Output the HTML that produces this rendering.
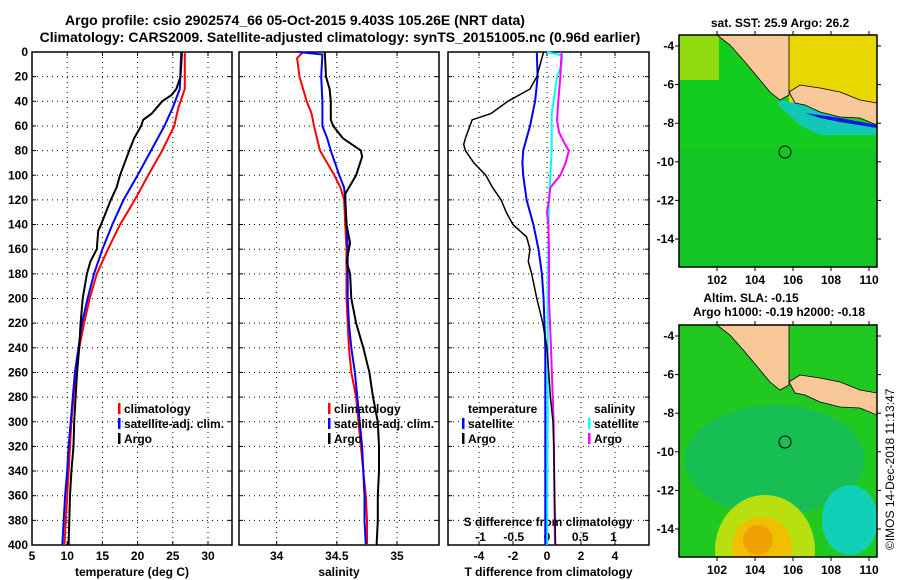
<!DOCTYPE html>
<html><head><meta charset="utf-8"><style>
html,body{margin:0;padding:0;background:#fff;}
svg{display:block;font-family:"Liberation Sans",sans-serif;font-weight:bold;}
</style></head><body>
<svg id="fig" width="900" height="580" xmlns="http://www.w3.org/2000/svg">
<text x="295" y="25" font-size="14" text-anchor="middle">Argo profile: csio 2902574_66 05-Oct-2015 9.403S 105.26E (NRT data)</text>
<text x="340" y="42" font-size="14" text-anchor="middle">Climatology: CARS2009. Satellite-adjusted climatology: synTS_20151005.nc (0.96d earlier)</text>
<text transform="translate(894,550) rotate(-90)" font-size="12" font-weight="normal">©IMOS 14-Dec-2018 11:13:47</text>
<g id="maps"></g>
<g id="plots"></g>
</svg>
<script>
// ===== data =====
const depthTick = [0,20,40,60,80,100,120,140,160,180,200,220,240,260,280,300,320,340,360,380,400];
// temperature panel
const tempTicks = [5,10,15,20,25,30];
const tClimD = [0,30,45,60,80,100,120,140,160,180,200,220,240,260,280,300,320,340,360,380,400];
const tClimV = [26.7,26.7,25.8,25.2,23.5,21.5,19.6,17.5,15.8,14.2,13.2,12.4,11.7,11.2,10.9,10.6,10.4,10.2,10.0,9.8,9.6];
const tSatD = [0,30,45,60,80,100,120,140,160,180,200,220,240,260,280,300,320,340,360,380,400];
const tSatV = [26.2,26.0,25.0,23.8,21.9,20.0,18.0,16.4,15.0,13.8,12.9,12.1,11.6,11.1,10.8,10.5,10.2,10.0,9.7,9.5,9.3];
const tArgoD = [0,20,30,35,40,50,55,60,70,80,100,110,120,140,145,160,170,180,200,220,240,260,280,300,320,340,360,380,400];
const tArgoV = [26.3,26.1,25.5,24.8,23.5,22.0,20.8,20.5,19.5,18.8,17.5,17.0,16.2,14.8,14.4,14.2,13.3,12.8,12.2,11.9,11.7,11.4,11.2,11.0,10.9,10.6,10.4,10.3,10.2];
// salinity panel
const salTicks = [34,34.5,35];
const sClimD = [0,5,20,40,50,60,80,100,110,120,140,160,180,200,220,240,260,280,300,320,340,360,380,400];
const sClimV = [34.22,34.17,34.19,34.25,34.29,34.31,34.36,34.48,34.53,34.56,34.57,34.58,34.58,34.58,34.59,34.60,34.62,34.66,34.68,34.70,34.72,34.74,34.75,34.75];
const sSatD = [0,2,20,40,60,70,80,100,110,120,140,160,180,200,220,240,260,280,300,320,340,360,380,400];
const sSatV = [34.18,34.38,34.37,34.38,34.38,34.42,34.45,34.52,34.56,34.57,34.58,34.59,34.59,34.59,34.60,34.62,34.65,34.67,34.69,34.71,34.72,34.73,34.73,34.74];
const sArgoD = [0,20,30,40,55,60,70,80,85,100,110,115,120,140,155,170,180,200,220,240,260,280,300,320,340,360,380,400];
const sArgoV = [34.40,34.41,34.44,34.45,34.45,34.47,34.55,34.70,34.71,34.66,34.60,34.57,34.57,34.58,34.61,34.58,34.61,34.62,34.66,34.72,34.77,34.80,34.84,34.85,34.85,34.84,34.84,34.83];
// difference panel
const dTTicks = [-4,-2,0,2,4];
const dSTicks = [-1,-0.5,0,0.5,1];
const dTSatD = [0,20,40,60,70,80,90,100,120,140,160,180,200,240,300,400];
const dTSatV = [-0.6,-0.55,-0.7,-1.0,-1.2,-1.4,-1.45,-1.4,-1.2,-0.8,-0.5,-0.3,-0.2,-0.1,-0.1,-0.1];
const dTArgoD = [0,20,30,40,50,55,70,75,80,90,100,110,120,130,140,150,160,170,180,200,220,240,280,300,320,360,400];
const dTArgoV = [-0.2,-0.6,-1.0,-2.3,-3.3,-4.4,-4.8,-4.9,-4.8,-4.3,-3.6,-3.2,-2.7,-2.4,-2.0,-1.2,-1.0,-1.1,-0.9,-0.6,-0.25,0,0.2,0.35,0.4,0.45,0.5];
const dSSatD = [0,3,10,20,40,50,60,80,100,120,160,200,300,400];
const dSSatV = [0.0,0.23,0.22,0.15,0.10,0.07,0.07,0.07,0.05,0.03,0.02,0.01,0.01,0.0];
const dSArgoD = [0,20,40,55,65,75,80,90,100,110,120,130,140,160,200,240,300,400];
const dSArgoV = [0.22,0.20,0.17,0.15,0.18,0.27,0.33,0.28,0.20,0.05,0.03,0.0,0.02,0.03,0.03,0.06,0.10,0.12];

// ===== drawing =====
const NS='http://www.w3.org/2000/svg';
const plots=document.getElementById('plots');
function el(tag,attrs,parent,txt){const e=document.createElementNS(NS,tag);for(const k in attrs)e.setAttribute(k,attrs[k]);if(txt!==undefined)e.textContent=txt;(parent||plots).appendChild(e);return e;}
const Y0=52,Y1=545;
const yD=d=>Y0+(Y1-Y0)*d/400;

function panel(name,x0,x1,vmin,vmax,ticks,label,showY){
  const g=el('g',{});
  
  
  const xs=v=>x0+(x1-x0)*(v-vmin)/(vmax-vmin);
  el('rect',{x:x0,y:Y0,width:x1-x0,height:Y1-Y0,fill:'#fff',stroke:'#000','stroke-width':1.5},g);
  depthTick.forEach(d=>{
    const y=yD(d);
    if(d>0&&d<400){el('line',{x1:x0,x2:x1,y1:y,y2:y,stroke:'#000','stroke-width':1,'stroke-dasharray':'1,4'},g);}
    el('line',{x1:x0,x2:x0+4,y1:y,y2:y,stroke:'#000'},g);
    el('line',{x1:x1-4,x2:x1,y1:y,y2:y,stroke:'#000'},g);
    if(showY){const t=el('text',{x:x0-4,y:y+4,'font-size':12,'text-anchor':'end'},g,String(d));}
  });
  ticks.forEach(v=>{
    const x=xs(v);
    if(x>x0+1&&x<x1-1)el('line',{x1:x,x2:x,y1:Y0,y2:Y1,stroke:'#000','stroke-width':1,'stroke-dasharray':'1,4'},g);
    el('line',{x1:x,x2:x,y1:Y1-4,y2:Y1,stroke:'#000'},g);
    el('line',{x1:x,x2:x,y1:Y0,y2:Y0+4,stroke:'#000'},g);
    const t=el('text',{x:x,y:Y1+15,'font-size':12,'text-anchor':'middle'},g,String(v));
    
    
  });
  const xl=el('text',{x:(x0+x1)/2,y:576,'font-size':12,'text-anchor':'middle'},g,label);
  
  
  return {g,xs};
}
function line(p,D,V,color,w,name){
  const pts=D.map((d,i)=>p.xs(V[i]).toFixed(1)+','+yD(d).toFixed(1)).join(' ');
  const l=el('polyline',{points:pts,fill:'none',stroke:color,'stroke-width':w},p.g);
  
  
}
function legend(g,x,y,color,txt,name){
  if(color)el('rect',{x:x,y:y-10,width:2.5,height:11,fill:color},g);
  const t=el('text',{x:x+6,y:y,'font-size':12},g,txt);
  
  
}

// panel 1
const p1=panel('temperature-panel',32,232,5,5+200/7.04,tempTicks,'temperature (deg C)',true);
line(p1,tClimD,tClimV,'#ff0000',2,'climatology-temp-line');
line(p1,tSatD,tSatV,'#0000ff',2,'satellite-adj-temp-line');
line(p1,tArgoD,tArgoV,'#000000',2,'argo-temp-line');
legend(p1.g,118,413,'#f00','climatology','legend-climatology');
legend(p1.g,118,428,'#00f','satellite-adj. clim.','legend-satellite-adj');
legend(p1.g,118,443,'#000','Argo','legend-argo');

// panel 2
const p2=panel('salinity-panel',239,439,34-37.7/120.6,35+42/120.6,salTicks,'salinity',false);
line(p2,sClimD,sClimV,'#ff0000',2,'climatology-salinity-line');
line(p2,sSatD,sSatV,'#0000ff',2,'satellite-adj-salinity-line');
line(p2,sArgoD,sArgoV,'#000000',2,'argo-salinity-line');
legend(p2.g,328,413,'#f00','climatology','legend-climatology');
legend(p2.g,328,428,'#00f','satellite-adj. clim.','legend-satellite-adj');
legend(p2.g,328,443,'#000','Argo','legend-argo');

// panel 3
const p3=panel('difference-panel',448,649,-99/17,102/17,dTTicks,'T difference from climatology',false);
const sx=v=>547+v*66.5;
const pS={g:p3.g,xs:sx};
dSTicks.forEach(v=>{const t=el('text',{x:sx(v),y:541,'font-size':12,'text-anchor':'middle'},p3.g,String(v));});
const st=el('text',{x:548,y:526,'font-size':12,'text-anchor':'middle'},p3.g,'S difference from climatology');


line(pS,dSSatD,dSSatV,'#00ffff',2,'satellite-salinity-diff-line');
line(pS,dSArgoD,dSArgoV,'#ff00ff',2,'argo-salinity-diff-line');
line(p3,dTSatD,dTSatV,'#0000ff',2,'satellite-temp-diff-line');
line(p3,dTArgoD,dTArgoV,'#000000',1.5,'argo-temp-diff-line');
legend(p3.g,462,413,null,'temperature','legend-temperature-heading');
legend(p3.g,462,428,'#00f','satellite','legend-temp-satellite');
legend(p3.g,462,443,'#000','Argo','legend-temp-argo');
legend(p3.g,588,413,null,'salinity','legend-salinity-heading');
legend(p3.g,588,428,'#0ff','satellite','legend-sal-satellite');
legend(p3.g,588,443,'#f0f','Argo','legend-sal-argo');

// ===== maps =====
const maps=document.getElementById('maps');
function map(name,top,bot,title,kind){
  const g=el('g',{},maps);
  
  
  const off=top-35;
  const L=679,R=877;
  const id=name+'-clip';
  const cp=el('clipPath',{id:id},g);el('rect',{x:L,y:top,width:R-L,height:bot-top},cp);
  const c=el('g',{'clip-path':'url(#'+id+')'},g);
  if(kind==='sst'){
    el('rect',{x:L,y:top,width:R-L,height:bot-top,fill:'#14cc1e'},c);
    el('rect',{x:L,y:top,width:40,height:45,fill:'#90dc10'},c);
    el('rect',{x:789,y:top,width:88,height:70,fill:'#e8d800'},c);
    el('polygon',{points:[[780,100+off],[800,104+off],[840,118+off],[877,125+off],[877,135+off],[820,135+off],[800,125+off],[778,105+off]].join(' '),fill:'#10c8b4'},c);
    el('polygon',{points:[[805,113+off],[840,118+off],[877,125+off],[877,128+off],[840,122+off],[820,118+off]].join(' '),fill:'#1010ee'},c);
    el('rect',{x:L,y:150+off,width:R-L,height:120,fill:'#10c028',opacity:0.6},c);
  } else {
    el('rect',{x:L,y:top,width:R-L,height:bot-top,fill:'#20c820'},c);
    el('ellipse',{cx:775,cy:top+135,rx:90,ry:55,fill:'#14bc60',opacity:0.8},c);
    el('ellipse',{cx:850,cy:top+195,rx:28,ry:35,fill:'#10d0b8'},c);
    el('ellipse',{cx:765,cy:top+225,rx:50,ry:55,fill:'#b8e010'},c);
    el('ellipse',{cx:762,cy:top+222,rx:30,ry:30,fill:'#f0c000'},c);
    el('ellipse',{cx:758,cy:top+215,rx:15,ry:15,fill:'#f0a000'},c);
  }
  const land1=[[717,35],[789,35],[789,95],[780,100],[770,92],[760,80],[745,62],[730,45]].map(p=>[p[0],p[1]+off]);
  const land2=[[789,92],[800,85],[820,88],[840,92],[860,100],[877,103],[877,125],[860,118],[840,117],[820,112],[805,105],[795,103]].map(p=>[p[0],p[1]+off]);
  el('polygon',{points:land1.join(' '),fill:'#f8c898',stroke:'#000','stroke-width':0.8},c);
  el('polygon',{points:land2.join(' '),fill:'#f8c898',stroke:'#000','stroke-width':0.8},c);
  el('circle',{cx:785,cy:top+117,r:6,fill:'none',stroke:'#000'},c);
  el('rect',{x:L,y:top,width:R-L,height:bot-top,fill:'none',stroke:'#000','stroke-width':1.5},g);
  [102,104,106,108,110].forEach(v=>{const x=717+(v-102)*19;
    el('line',{x1:x,x2:x,y1:top,y2:top-4,stroke:'#000'},g);el('line',{x1:x,x2:x,y1:bot,y2:bot+4,stroke:'#000'},g);
    const t=el('text',{x:x,y:bot+17,'font-size':12,'text-anchor':'middle'},g,String(v));});
  [-4,-6,-8,-10,-12,-14].forEach(v=>{const y=top+11+(-4-v)*19.3;
    el('line',{x1:L-4,x2:L,y1:y,y2:y,stroke:'#000'},g);el('line',{x1:R,x2:R+4,y1:y,y2:y,stroke:'#000'},g);
    const t=el('text',{x:L-5,y:y+4,'font-size':12,'text-anchor':'end'},g,String(v));});
  title.forEach(s=>{const t=el('text',{x:s[1],y:s[2],'font-size':12,'text-anchor':'middle'},g,s[0]);});
}
map('sst-map',35,267,[['sat. SST: 25.9 Argo: 26.2',780,27]],'sst');
map('sla-map',325,557,[['Altim. SLA: -0.15',751,302],['Argo h1000: -0.19 h2000: -0.18',779,316]],'sla');
</script>
</body></html>
